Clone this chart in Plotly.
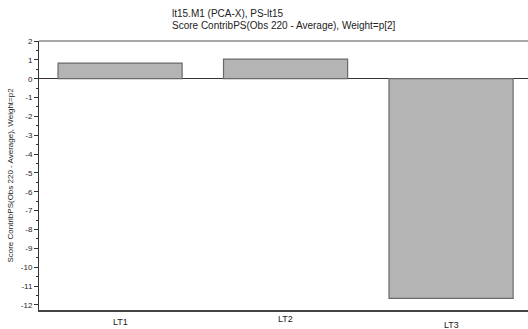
import plotly.graph_objects as go

categories = ["LT1", "LT2", "LT3"]
values = [0.83, 1.04, -11.65]
label_offsets = [0, -3, 3]  # vertical stagger of category labels (px)

title_lines = ["lt15.M1 (PCA-X), PS-lt15", "Score ContribPS(Obs 220 - Average), Weight=p[2]"]
y_title = "Score ContribPS(Obs 220 - Average), Weight=p2"
y_ticks = list(range(-12, 3))

fig = go.Figure()
fig.add_trace(go.Bar(
    x=list(range(len(categories))), y=values, width=0.75,
    marker=dict(color="#b4b4b4", line=dict(color="#6a6a6a", width=1.2)),
))

font = "Liberation Sans, Arial, sans-serif"
for i, (c, off) in enumerate(zip(categories, label_offsets)):
    fig.add_annotation(x=i, y=0, xref="x", yref="paper", text=c, showarrow=False,
                       yanchor="top", yshift=-5 - off, font=dict(size=9, color="#222", family=font))

for j, line in enumerate(title_lines):
    fig.add_annotation(x=170, y=1, xref="x domain", yref="paper", text=line, showarrow=False,
                       xanchor="left", yanchor="middle", yshift=28 - 12 * j,
                       font=dict(size=10, color="#222", family=font))
# place title x in pixels via paper fraction
for ann in fig.layout.annotations[len(categories):]:
    ann.update(xref="paper", x=(170 - 39) / (528 - 39))

fig.add_shape(type="line", xref="paper", yref="paper", x0=0, x1=1, y0=1, y1=1,
              line=dict(color="#8a8a8a", width=1.5))

fig.update_layout(
    width=528, height=329,
    margin=dict(l=39, r=0, t=41, b=19),
    paper_bgcolor="white", plot_bgcolor="white",
    showlegend=False,
    xaxis=dict(range=[-0.49, 2.465], showticklabels=False, showgrid=False, zeroline=False,
               showline=True, linecolor="#444", linewidth=1.5, ticks=""),
    yaxis=dict(range=[-12.27, 2.0], tickvals=y_ticks, ticktext=[str(v) for v in y_ticks],
               showgrid=False, zeroline=True, zerolinecolor="#333", zerolinewidth=1.2,
               showline=True, linecolor="#333", linewidth=1,
               ticks="outside", ticklen=4, tickcolor="#333",
               minor=dict(ticks="outside", ticklen=2, dtick=0.5, tickcolor="#333"),
               tickfont=dict(size=8, color="#222", family=font),
               title=dict(text=y_title, font=dict(size=8, color="#222", family=font), standoff=6)),
)

fig.write_html("out.html")
